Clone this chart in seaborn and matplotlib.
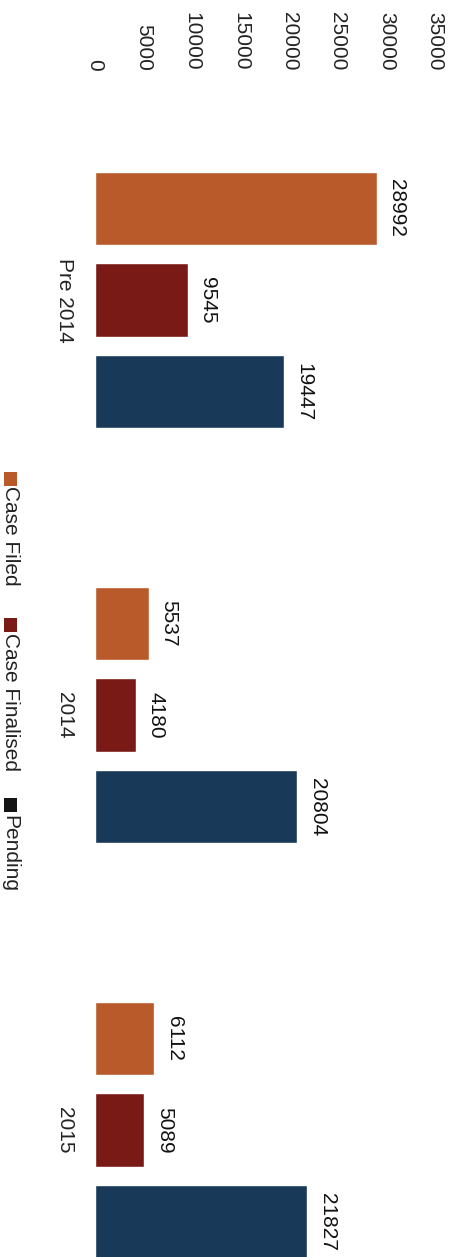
import matplotlib
matplotlib.use("Agg")
import matplotlib.pyplot as plt
import seaborn as sns
import pandas as pd
from matplotlib.patches import Rectangle

# ---- data ----
categories = ["Pre 2014", "2014", "2015"]
series = ["Case Filed", "Case Finalised", "Pending"]
case_filed = [28992, 5537, 6112]
case_finalised = [9545, 4180, 5089]
pending = [19447, 20804, 21827]
colors = ["#B95A2A", "#7A1A16", "#183A58"]
legend_colors = ["#B95A2A", "#7A1A16", "#151515"]
value_ticks = [0, 5000, 10000, 15000, 20000, 25000, 30000, 35000]

values_by_series = [case_filed, case_finalised, pending]
rows = []
for s, vals in zip(series, values_by_series):
    for c, v in zip(categories, vals):
        rows.append({"Category": c, "Series": s, "Value": v})
df = pd.DataFrame(rows)

sns.set_theme(style="white")
plt.rcParams['font.family'] = ['Liberation Sans', 'DejaVu Sans']

W, H = 455, 1257
FS = 15
fig = plt.figure(figsize=(W / 100, H / 100), dpi=100)
ax = fig.add_axes([95 / W, 0, (435 - 95) / W, (H - 75) / H])

sns.barplot(data=df, y="Category", x="Value", hue="Series", order=categories,
            hue_order=series, palette=colors, orient="h", width=0.663, gap=0.2,
            saturation=1, legend=False, ax=ax)

for cont, vals in zip(ax.containers, values_by_series):
    ax.bar_label(cont, labels=[str(v) for v in vals], padding=7.6,
                 rotation=-90, fontsize=FS, color="#111111")

ax.set_xlim(0, 35000)
ax.set_ylim(2.306, -0.542)
ax.set_xticks(value_ticks)
ax.set_xticklabels([str(t) for t in value_ticks])
ax.xaxis.tick_top()
ax.tick_params(axis='x', length=0, pad=3, labelsize=FS, labelrotation=-90,
               labelcolor="#222222")
ax.tick_params(axis='y', length=0, pad=15, labelsize=FS, labelrotation=-90,
               labelcolor="#222222")
for lbl in ax.get_yticklabels():
    lbl.set_va('center')
ax.set_xlabel("")
ax.set_ylabel("")
for sp in ax.spines.values():
    sp.set_visible(False)

# ---- manual legend (rotated, like the reference) ----
legend_square_tops = [472, 618, 798]
legend_text_tops = [486, 633, 815]
for s, col, sq, tt in zip(series, legend_colors, legend_square_tops, legend_text_tops):
    fig.patches.append(Rectangle((4 / W, 1 - (sq + 14) / H), 13 / W, 14 / H,
                                 transform=fig.transFigure, facecolor=col,
                                 edgecolor='none'))
    fig.text(10 / W, 1 - tt / H, s, rotation=-90, ha='center', va='top',
             fontsize=FS, color="#222222")

fig.savefig("out.png", dpi=100)
